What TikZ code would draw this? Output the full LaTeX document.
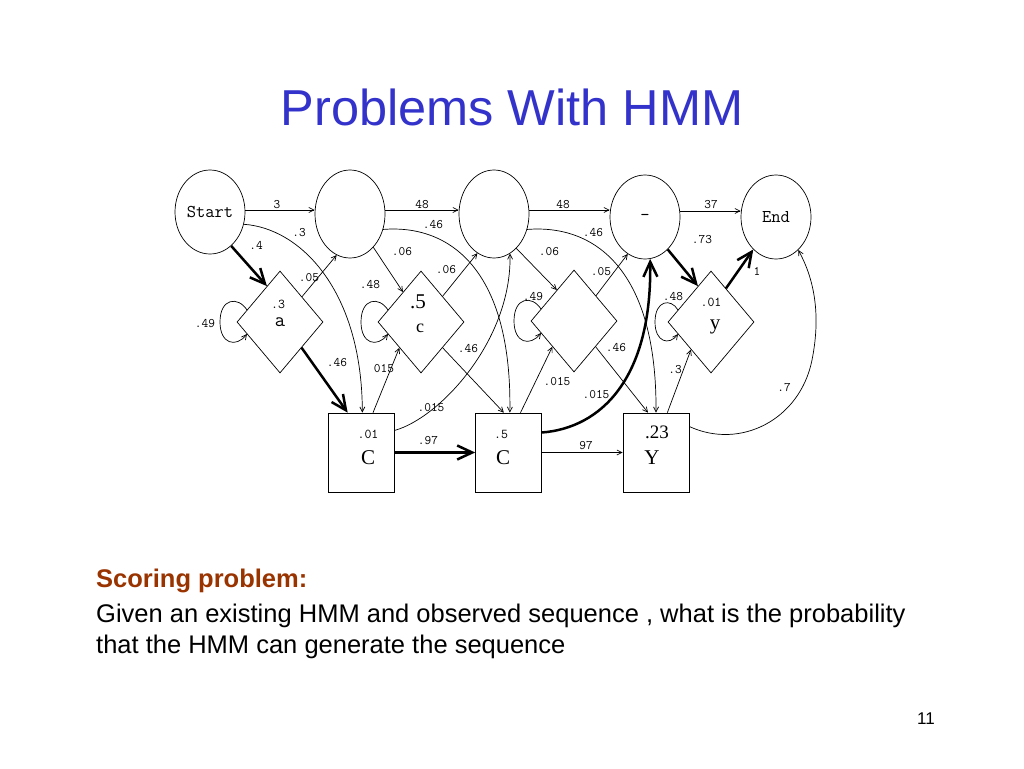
\documentclass[tikz,border=0pt]{standalone}
\usepackage{fontspec}
\setmainfont{Liberation Sans}
\newfontfamily\seriff{Liberation Serif}
\usetikzlibrary{shapes.geometric,arrows.meta,calc}
\definecolor{titleblue}{RGB}{51,51,204}
\definecolor{scorebrown}{RGB}{153,51,0}
\begin{document}
\begin{tikzpicture}[x=1pt,y=-1pt,
  st/.style={draw, ellipse, line width=0.7pt, inner sep=0pt, minimum width=70pt, minimum height=84pt, font=\ttfamily\fontsize{18}{18}\selectfont},
  dia/.style={draw, diamond, line width=0.7pt, inner sep=0pt, minimum width=86pt, minimum height=102pt},
  box/.style={draw, rectangle, line width=0.7pt, inner sep=0pt, minimum width=66pt, minimum height=79pt},
  lab/.style={font=\ttfamily\fontsize{13}{13}\selectfont, inner sep=0pt},
  inlab/.style={font=\ttfamily\fontsize{13.5}{13.5}\selectfont, inner sep=0pt},
  big/.style={font=\seriff\fontsize{21}{21}\selectfont, inner sep=0pt},
  tarr/.style={line width=0.7pt, -{Straight Barb[length=5pt,width=5pt]}},
  karr/.style={line width=2.5pt, -{Straight Barb[length=15pt,width=14pt]}},
]
\fill[white] (0,0) rectangle (1024,768);
\useasboundingbox (0,0) rectangle (1024,768);

% title and text
\node[anchor=base, font=\fontsize{50.5}{50.5}\selectfont, text=titleblue, inner sep=0pt] (title) at (512,125) {Problems With HMM};
\node[anchor=base west, font=\bfseries\fontsize{25.5}{25.5}\selectfont, text=scorebrown, inner sep=0pt] (score) at (96,587) {Scoring problem:};
\node[anchor=base west, font=\fontsize{25.5}{25.5}\selectfont, inner sep=0pt] (given) at (96,622) {Given an existing HMM and observed sequence , what is the probability};
\node[anchor=base west, font=\fontsize{25.5}{25.5}\selectfont, inner sep=0pt] (that) at (96,653) {that the HMM can generate the sequence};
\node[anchor=base, font=\fontsize{17}{17}\selectfont, inner sep=0pt] (pg) at (926,724) {11};

% states
\node[st] (Start) at (210,212) {Start};
\node[st, minimum height=88pt] (S1) at (350,214) {};
\node[st, minimum height=88pt] (S2) at (494,214) {};
\node[st] (S3) at (645,217) {–};
\node[st] (End) at (776,217) {End};

\node[dia] (a) at (280,322) {};
\node[dia] (c) at (421,322) {};
\node[dia] (d3) at (574,321) {};
\node[dia] (y) at (711,322) {};

\node[box] (C1) at (361,452.5) {};
\node[box] (C2) at (508.5,452.5) {};
\node[box] (Y) at (656,452.5) {};

% inner labels
\node[inlab] (ta1) at (278,304) {.3};
\node[font=\ttfamily\fontsize{20}{20}\selectfont, inner sep=0pt] (ta2) at (280,322) {a};
\node[big] (tc1) at (418,302) {.5};
\node[font=\seriff\fontsize{18}{18}\selectfont, inner sep=0pt] (tc2) at (420,328) {c};
\node[inlab] (ty1) at (711,302) {.01};
\node[font=\seriff\fontsize{21}{21}\selectfont, inner sep=0pt] (ty2) at (715,327) {y};
\node[inlab] (tC1a) at (368,434) {.01};
\node[big] (tC1b) at (368,458) {C};
\node[inlab] (tC2a) at (501,434) {.5};
\node[big] (tC2b) at (503,458) {C};
\node[font=\seriff\fontsize{19}{19}\selectfont, inner sep=0pt] (tYa) at (657,432) {.23};
\node[big] (tYb) at (652,458) {Y};

% horizontal transitions
\draw[tarr] ([yshift=2pt]Start.east) -- ([yshift=4pt]S1.west);
\draw[tarr] ([yshift=4pt]S1.east) -- ([yshift=4pt]S2.west);
\draw[tarr] ([yshift=4pt]S2.east) -- ([yshift=7pt]S3.west);
\draw[tarr] ([yshift=6pt]S3.east) -- ([yshift=6pt]End.west);
\draw[karr] (C1.east) -- (C2.west);
\draw[tarr] (C2.east) -- (Y.west);

% group 1
\draw[tarr] (Start.-20) .. controls (300,228) and (362,290) .. ($(C1.north west)!0.52!(C1.north east)$);
\draw[karr] (Start.-58) -- (a.110);
\draw[tarr] (a.49) -- (S1.-108);
\draw[karr] (a.-50) -- ($(C1.north west)!0.3!(C1.north east)$);
\draw[tarr] ($(a)+(-33,-12)$) .. controls ($(a)+(-42,-26)$) and ($(a)+(-60,-24)$) .. ($(a)+(-60,0)$)
   .. controls ($(a)+(-60,22)$) and ($(a)+(-44,26)$) .. ($(a)+(-33,12)$);

% group 2
\draw[tarr] (S1.-55) -- (c.121);
\draw[tarr] (c.50) -- (S2.-113);
\draw[tarr] (c.-50) -- ($(C2.north west)!0.43!(C2.north east)$);
\draw[tarr] ($(C1.north west)!0.68!(C1.north east)$) -- (c.-130);
\draw[tarr] (S1.-25) .. controls (450,224) and (512,270) .. ($(C2.north west)!0.52!(C2.north east)$);
\draw[tarr] ([yshift=22pt]C1.east) .. controls (440,418) and (512,340) .. (S2.-68);
\draw[tarr] ($(c)+(-33,-12)$) .. controls ($(c)+(-42,-26)$) and ($(c)+(-60,-24)$) .. ($(c)+(-60,0)$)
   .. controls ($(c)+(-60,22)$) and ($(c)+(-44,26)$) .. ($(c)+(-33,12)$);

% group 3
\draw[tarr] (S2.-57) -- (d3.119);
\draw[tarr] (d3.49) -- (S3.-115);
\draw[tarr] (d3.-50) -- ($(Y.north west)!0.38!(Y.north east)$);
\draw[tarr] ($(C2.north west)!0.68!(C2.north east)$) -- (d3.-130);
\draw[tarr] (S2.-25) .. controls (595,224) and (657,270) .. ($(Y.north west)!0.5!(Y.north east)$);
\draw[karr] ([yshift=20pt]C2.east) .. controls (600,428) and (652,380) .. (S3.-83);
\draw[tarr] ($(d3)+(-33,-12)$) .. controls ($(d3)+(-42,-26)$) and ($(d3)+(-60,-24)$) .. ($(d3)+(-60,0)$)
   .. controls ($(d3)+(-60,22)$) and ($(d3)+(-44,26)$) .. ($(d3)+(-33,12)$);

% group 4
\draw[karr] (S3.-55) -- (y.110);
\draw[karr] (y.66) -- (End.-125);
\draw[tarr] ($(Y.north west)!0.67!(Y.north east)$) -- (y.-126);
\draw[tarr] ($(y)+(-33,-12)$) .. controls ($(y)+(-40,-24)$) and ($(y)+(-56,-22)$) .. ($(y)+(-56,0)$)
   .. controls ($(y)+(-56,20)$) and ($(y)+(-42,24)$) .. ($(y)+(-33,12)$);
\draw[tarr] ([yshift=26pt]Y.east) .. controls (740,450) and (800,420) .. (812,360)
   .. controls (822,310) and (812,275) .. (End.-56);

% edge labels
\node[lab] (l01) at (277,205) {3};
\node[lab] (l02) at (422,205) {48};
\node[lab] (l03) at (563,205) {48};
\node[lab] (l04) at (711,205) {37};
\node[lab] (l05) at (586,446) {97};
\node[lab] (l06) at (428,441) {.97};
\node[lab] (l07) at (256,245) {.4};
\node[lab] (l08) at (299,233) {.3};
\node[lab] (l09) at (309,278) {.05};
\node[lab] (l10) at (205,324) {.49};
\node[lab] (l11) at (337,363) {.46};
\node[lab] (l12) at (402,252) {.06};
\node[lab] (l13) at (433,225) {.46};
\node[lab] (l14) at (370,285) {.48};
\node[lab] (l15) at (446,270) {.06};
\node[lab] (l16) at (384,369) {015};
\node[lab] (l17) at (468,349) {.46};
\node[lab] (l18) at (431,408) {.015};
\node[lab] (l19) at (549,252) {.06};
\node[lab] (l20) at (601,272) {.05};
\node[lab] (l21) at (533,297) {.49};
\node[lab] (l22) at (557,382) {.015};
\node[lab] (l23) at (596,395) {.015};
\node[lab] (l24) at (616,348) {.46};
\node[lab] (l25) at (593,233) {.46};
\node[lab] (l26) at (702,240) {.73};
\node[lab] (l27) at (757,271) {1};
\node[lab] (l28) at (673,297) {.48};
\node[lab] (l29) at (675,370) {.3};
\node[lab] (l30) at (784,388) {.7};
\end{tikzpicture}
\end{document}
